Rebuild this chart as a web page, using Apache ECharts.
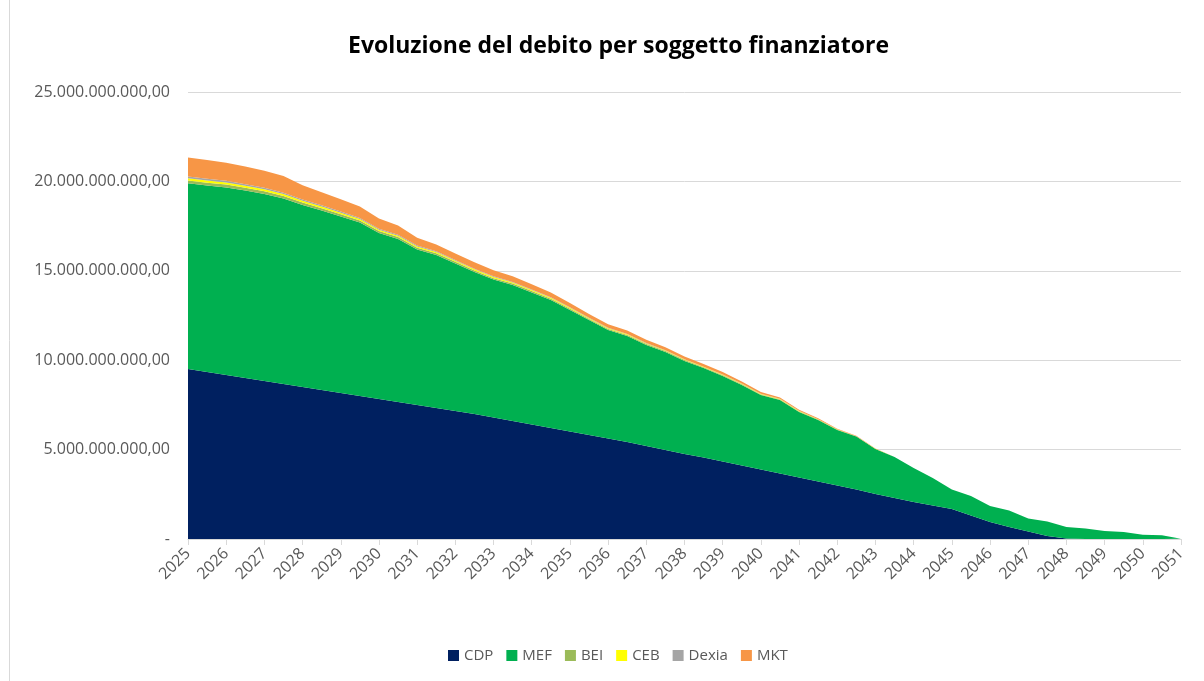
<!DOCTYPE html>
<html>
<head>
<meta charset="utf-8">
<script src="https://cdn.jsdelivr.net/npm/echarts@6/dist/echarts.min.js"></script>
<style>
html,body{margin:0;padding:0;background:#fff;}
#chart{width:1204px;height:681px;}
</style>
</head>
<body>
<div id="chart"></div>
<script>
// Half-year periods (labels shown on whole years only)
const periods = ['2025','2025.5','2026','2026.5','2027','2027.5','2028','2028.5','2029','2029.5',
  '2030','2030.5','2031','2031.5','2032','2032.5','2033','2033.5','2034','2034.5',
  '2035','2035.5','2036','2036.5','2037','2037.5','2038','2038.5','2039','2039.5',
  '2040','2040.5','2041','2041.5','2042','2042.5','2043','2043.5','2044','2044.5',
  '2045','2045.5','2046','2046.5','2047','2047.5','2048','2048.5','2049','2049.5',
  '2050','2050.5','2051'];

// Values in billions of euro
const CDP = [9.51,9.34,9.17,9.00,8.84,8.67,8.50,8.33,8.17,8.00,
  7.83,7.66,7.49,7.33,7.16,6.99,6.80,6.60,6.40,6.21,
  6.01,5.82,5.62,5.43,5.20,4.98,4.75,4.56,4.33,4.11,
  3.89,3.66,3.44,3.22,2.99,2.77,2.52,2.29,2.07,1.87,
  1.68,1.31,0.95,0.67,0.42,0.17,0.03,0,0,0,
  0,0,0];
const MEF = [10.38,10.43,10.49,10.49,10.46,10.37,10.18,10.04,9.87,9.70,
  9.28,9.12,8.70,8.55,8.25,7.94,7.71,7.61,7.39,7.16,
  6.80,6.43,6.07,5.92,5.65,5.48,5.21,5.00,4.79,4.50,
  4.16,4.11,3.66,3.44,3.11,2.96,2.51,2.30,1.90,1.54,
  1.09,1.09,0.90,0.92,0.73,0.81,0.64,0.59,0.45,0.39,
  0.24,0.21,0.02];
const BEI = [0.16,0.16,0.16,0.15,0.15,0.15,0.14,0.13,0.12,0.12,
  0.11,0.11,0.10,0.10,0.09,0.09,0.08,0.08,0.08,0.07,
  0.07,0.06,0.06,0.06,0.05,0.05,0.05,0.04,0.04,0.04,
  0.03,0.03,0.03,0.02,0.02,0.01,0.01,0,0,0,
  0,0,0,0,0,0,0,0,0,0,
  0,0,0];
const CEB = [0.13,0.12,0.12,0.11,0.11,0.10,0.10,0.09,0.09,0.08,
  0.08,0.07,0.07,0.07,0.06,0.06,0.06,0.05,0.05,0.05,
  0.05,0.04,0.04,0.04,0.04,0.03,0.03,0.03,0.03,0.03,
  0.03,0.03,0.03,0.02,0.02,0.01,0.01,0,0,0,
  0,0,0,0,0,0,0,0,0,0,
  0,0,0];
const Dexia = [0.10,0.10,0.09,0.09,0.08,0.08,0.07,0.07,0.06,0.06,
  0.05,0.05,0.05,0.04,0.04,0.04,0.04,0.03,0.03,0.03,
  0.03,0.02,0.02,0.02,0.02,0.02,0.01,0.01,0.01,0.01,
  0.01,0.01,0.01,0,0,0,0,0,0,0,
  0,0,0,0,0,0,0,0,0,0,
  0,0,0];
const MKT = [1.06,1.04,1.02,0.99,0.96,0.93,0.79,0.74,0.69,0.64,
  0.57,0.52,0.44,0.38,0.37,0.36,0.34,0.32,0.30,0.27,
  0.24,0.21,0.20,0.19,0.18,0.17,0.16,0.15,0.14,0.12,
  0.10,0.08,0.06,0.05,0.03,0.02,0.01,0,0,0,
  0,0,0,0,0,0,0,0,0,0,
  0,0,0];

const seriesNames = ['CDP','MEF','BEI','CEB','Dexia','MKT'];
const seriesData = [CDP, MEF, BEI, CEB, Dexia, MKT];
const colors = ['#002060','#00B050','#9BBB59','#FFFF00','#A5A5A5','#F79646'];

const FONT = '"Open Sans", "Noto Sans", sans-serif';

function fmtY(v){
  if (v === 0) return '-';
  const n = Math.round(v * 1e9);
  return String(n).replace(/\B(?=(\d{3})+(?!\d))/g, '.') + ',00';
}

const chart = echarts.init(document.getElementById('chart'), null, {renderer:'canvas'});
chart.setOption({
  animation: false,
  backgroundColor: '#fff',
  color: colors,
  title: {
    text: 'Evoluzione del debito per soggetto finanziatore',
    left: 343,
    top: 30,
    textStyle: {fontFamily: FONT, fontSize: 23, fontWeight: 'bold', color: '#000'}
  },
  legend: {
    bottom: 13,
    left: 443,
    icon: 'rect',
    itemWidth: 11,
    itemHeight: 11,
    itemGap: 13,
    textStyle: {fontFamily: FONT, fontSize: 15, color: '#595959'},
    data: seriesNames
  },
  grid: {left: 188, right: 23, top: 92, bottom: 142, containLabel: false},
  xAxis: {
    type: 'category',
    boundaryGap: false,
    data: periods,
    axisLine: {lineStyle: {color: '#d9d9d9', width: 1}},
    axisTick: {show: true, interval: 1, length: 6, lineStyle: {color: '#d9d9d9'}},
    axisLabel: {interval: 1, rotate: 45, margin: 12, fontFamily: FONT, fontSize: 16, color: '#595959'},
    splitLine: {show: false}
  },
  yAxis: {
    type: 'value',
    min: 0, max: 25, interval: 5,
    axisLine: {show: false},
    axisTick: {show: false},
    axisLabel: {formatter: fmtY, margin: 18, fontFamily: FONT, fontSize: 16, color: '#595959'},
    splitLine: {lineStyle: {color: '#d9d9d9', width: 1}}
  },
  graphic: [{
    type: 'line',
    shape: {x1: 9.5, y1: 0, x2: 9.5, y2: 681},
    style: {stroke: '#d9d9d9', lineWidth: 1}
  }],
  series: seriesNames.map((name, i) => ({
    name: name,
    type: 'line',
    stack: 'total',
    data: seriesData[i],
    symbol: 'none',
    lineStyle: {width: 0},
    areaStyle: {color: colors[i], opacity: 1},
    itemStyle: {color: colors[i]},
    emphasis: {disabled: true}
  }))
});
</script>
</body>
</html>
